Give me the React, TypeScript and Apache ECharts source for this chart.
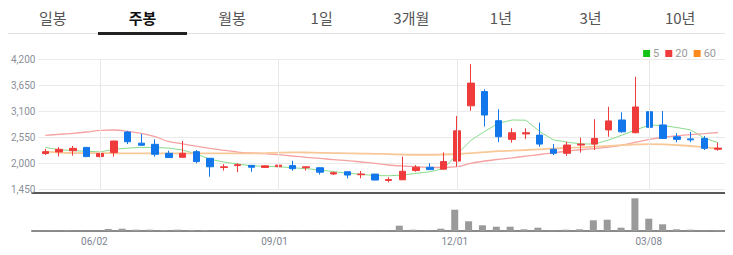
import React, { useEffect, useRef } from "react";
import * as echarts from "echarts";

const tabs = ["일봉", "주봉", "월봉", "1일", "3개월", "1년", "3년", "10년"];
const selectedTab = 1;

const dates = [
  "05/05", "05/12", "05/19", "05/26", "06/02", "06/09", "06/16", "06/23", "06/30", "07/07",
  "07/14", "07/21", "07/28", "08/04", "08/11", "08/18", "08/25", "09/01", "09/08", "09/15",
  "09/22", "09/29", "10/06", "10/13", "10/20", "10/27", "11/03", "11/10", "11/17", "11/24",
  "12/01", "12/08", "12/15", "12/22", "12/29", "01/05", "01/12", "01/19", "01/26", "02/02",
  "02/09", "02/16", "02/23", "03/02", "03/08", "03/16", "03/23", "03/30", "04/06", "04/13",
];

const openP = [
  2200, 2235, 2260, 2330, 2135, 2220, 2655, 2420, 2395, 2205,
  2120, 2240, 2100, 1905, 1945, 1950, 1905, 1922, 1945, 1900,
  1900, 1768, 1815, 1752, 1765, 1630, 1645, 1840, 1910, 1870,
  2040, 3210, 3510, 2895, 2500, 2615, 2590, 2290, 2205, 2380,
  2400, 2700, 2910, 2640, 3085, 2805, 2555, 2510, 2520, 2290,
];
const closeP = [
  2240, 2290, 2310, 2135, 2200, 2465, 2450, 2375, 2185, 2115,
  2205, 2030, 1920, 1920, 1965, 1910, 1940, 1955, 1880, 1920,
  1805, 1795, 1745, 1767, 1640, 1650, 1825, 1910, 1860, 2030,
  2680, 3690, 3015, 2555, 2640, 2640, 2400, 2205, 2380, 2400,
  2520, 2890, 2660, 3185, 2755, 2520, 2500, 2490, 2310, 2315,
];
const lowP = [
  2170, 2140, 2155, 2125, 2120, 2135, 2400, 2370, 2135, 2110,
  2115, 1995, 1710, 1840, 1805, 1815, 1895, 1890, 1835, 1840,
  1755, 1745, 1675, 1676, 1635, 1590, 1640, 1815, 1855, 1865,
  1920, 3105, 2770, 2440, 2430, 2510, 2345, 2170, 2150, 2220,
  2275, 2555, 2640, 2630, 2680, 2515, 2440, 2440, 2275, 2260,
];
const highP = [
  2300, 2335, 2360, 2340, 2210, 2470, 2680, 2615, 2500, 2260,
  2465, 2275, 2105, 1975, 1995, 1955, 1950, 2100, 2045, 1925,
  1905, 1815, 1820, 1830, 1770, 1700, 2135, 1955, 1995, 2225,
  2995, 4090, 3560, 3135, 2735, 2735, 2855, 2400, 2450, 2535,
  2925, 3190, 3075, 3825, 3615, 3100, 2630, 2660, 2570, 2430,
];

const ma5 = [
  2330, 2280, 2262, 2248, 2235, 2290, 2315, 2330, 2330, 2315,
  2275, 2190, 2080, 2020, 1980, 1940, 1930, 1920, 1900, 1880,
  1852, 1816, 1785, 1760, 1735, 1730, 1745, 1780, 1815, 1880,
  2190, 2480, 2670, 2840, 2910, 2905, 2665, 2490, 2440, 2405,
  2400, 2485, 2590, 2700, 2804, 2790, 2750, 2700, 2525, 2430,
];
const ma20 = [
  2586, 2607, 2628, 2656, 2690, 2698, 2670, 2625, 2557, 2450,
  2405, 2355, 2310, 2268, 2232, 2212, 2200, 2176, 2148, 2120,
  2100, 2070, 2049, 2021, 1994, 1958, 1937, 1922, 1909, 1905,
  1922, 1994, 2042, 2078, 2110, 2145, 2180, 2215, 2250, 2280,
  2305, 2335, 2380, 2440, 2500, 2545, 2575, 2600, 2620, 2645,
];
const ma60 = [
  2240, 2220, 2212, 2210, 2208, 2206, 2205, 2205, 2205, 2205,
  2205, 2205, 2205, 2205, 2205, 2205, 2210, 2220, 2225, 2222,
  2215, 2210, 2205, 2200, 2195, 2188, 2180, 2175, 2175, 2180,
  2190, 2210, 2230, 2250, 2262, 2275, 2290, 2305, 2318, 2330,
  2345, 2360, 2378, 2392, 2400, 2395, 2380, 2360, 2335, 2305,
];

const volume = [
  30000, 30000, 70000, 30000, 30000, 200000, 230000, 130000, 130000, 100000,
  130000, 100000, 100000, 40000, 40000, 40000, 40000, 50000, 40000, 30000,
  40000, 30000, 30000, 30000, 40000, 50000, 530000, 130000, 70000, 230000,
  2130000, 970000, 570000, 430000, 430000, 170000, 330000, 70000, 130000, 170000,
  1070000, 1130000, 330000, 3270000, 1230000, 670000, 170000, 130000, 70000, 70000,
];

const xLabels = ["06/02", "09/01", "12/01", "03/08"];
const priceMin = 1450;
const priceMax = 4200;
const priceStep = 550;
const volumeMax = 3800000;

const UP = "#ef3b3b";
const DOWN = "#1277ea";

function Chart() {
  const ref = useRef<HTMLDivElement>(null);
  useEffect(() => {
    if (!ref.current) return;
    const chart = echarts.init(ref.current, null, { renderer: "svg" });
    const showLabel = (_i: number, v: string) => xLabels.indexOf(v) >= 0;
    chart.setOption({
      animation: false,
      textStyle: { fontFamily: "Roboto, 'Noto Sans', sans-serif" },
      legend: {
        top: 8,
        right: 4,
        icon: "rect",
        itemWidth: 7,
        itemHeight: 7,
        itemGap: 6,
        textStyle: { color: "#9a9a9a", fontSize: 11, padding: [0, 0, 0, -2] },
        data: [
          { name: "5", itemStyle: { color: "#14c414" } },
          { name: "20", itemStyle: { color: "#f03c3c" } },
          { name: "60", itemStyle: { color: "#ff8a1c" } },
        ],
      },
      grid: [
        { left: 24, right: 0, top: 24, height: 130 },
        { left: 24, right: 0, top: 158, height: 38 },
      ],
      xAxis: [
        {
          gridIndex: 0,
          type: "category",
          data: dates,
          axisLine: { show: false },
          axisTick: { show: false },
          axisLabel: { show: false },
          splitLine: { show: false },
        },
        {
          gridIndex: 1,
          type: "category",
          data: dates,
          position: "bottom",
          axisLine: { lineStyle: { color: "#8a8a8a", width: 2 } },
          axisTick: { alignWithLabel: true, interval: showLabel, length: 3, lineStyle: { color: "#333" } },
          axisLabel: { interval: showLabel, color: "#7d8490", fontSize: 10, margin: 5 },
          splitLine: { show: false },
        },
        {
          gridIndex: 1,
          type: "category",
          data: dates,
          position: "top",
          axisLine: { lineStyle: { color: "#222", width: 1.5 } },
          axisTick: { show: false },
          axisLabel: { show: false },
        },
      ],
      yAxis: [
        {
          gridIndex: 0,
          type: "value",
          min: priceMin,
          max: priceMax,
          interval: priceStep,
          axisLine: { show: false },
          axisTick: { show: false },
          axisLabel: {
            color: "#8a8f99",
            fontSize: 10,
            margin: 3,
            formatter: (v: number) => v.toLocaleString("en-US"),
          },
          splitLine: { lineStyle: { color: "#ebebeb" } },
        },
        {
          gridIndex: 1,
          type: "value",
          min: 0,
          max: volumeMax,
          show: false,
          splitLine: { show: false },
        },
      ],
      series: [
        {
          name: "price",
          type: "candlestick",
          xAxisIndex: 0,
          yAxisIndex: 0,
          z: 4,
          barWidth: 7,
          data: dates.map((_, i) => [openP[i], closeP[i], lowP[i], highP[i]]),
          itemStyle: { color: UP, color0: DOWN, borderColor: UP, borderColor0: DOWN, borderWidth: 1 },
        },
        {
          name: "5",
          type: "line",
          xAxisIndex: 0,
          yAxisIndex: 0,
          z: 3,
          data: ma5,
          showSymbol: false,
          itemStyle: { color: "#14c414" },
          lineStyle: { color: "#8bdc8b", width: 1 },
          markLine: {
            silent: true,
            symbol: ["none", "none"],
            label: { show: false },
            lineStyle: { color: "#e8e8e8", type: "solid", width: 1 },
            data: xLabels.map((d) => ({ xAxis: d })),
          },
        },
        {
          name: "20",
          type: "line",
          xAxisIndex: 0,
          yAxisIndex: 0,
          z: 3,
          data: ma20,
          smooth: 0.3,
          showSymbol: false,
          itemStyle: { color: "#f03c3c" },
          lineStyle: { color: "#f5a2a2", width: 1.3 },
        },
        {
          name: "60",
          type: "line",
          xAxisIndex: 0,
          yAxisIndex: 0,
          z: 3,
          data: ma60,
          smooth: 0.3,
          showSymbol: false,
          itemStyle: { color: "#ff8a1c" },
          lineStyle: { color: "#f9c898", width: 1.8 },
        },
        {
          name: "volume",
          type: "bar",
          xAxisIndex: 1,
          yAxisIndex: 1,
          barWidth: 7,
          data: volume,
          itemStyle: { color: "#9a9a9a" },
        },
      ],
    });
    return () => chart.dispose();
  }, []);
  return <div ref={ref} style={{ width: 717, height: 220 }} />;
}

export default function App() {
  return (
    <div style={{ width: 717 }}>
      <div
        style={{
          position: "relative",
          display: "flex",
          height: 27,
          fontFamily: "'Noto Sans CJK KR', 'Noto Sans', sans-serif",
          fontSize: 15,
        }}
      >
        <div style={{ position: "absolute", left: 0, right: 0, bottom: 1, height: 1, background: "#e3e3e3" }} />
        {tabs.map((t, i) => (
          <div
            key={t}
            style={{
              position: "relative",
              flex: 1,
              textAlign: "center",
              lineHeight: "20px",
              color: i === selectedTab ? "#111" : "#555",
              fontWeight: i === selectedTab ? 700 : 400,
            }}
          >
            {t}
            {i === selectedTab && (
              <div style={{ position: "absolute", left: 0, right: 0, bottom: 0, height: 3, background: "#222" }} />
            )}
          </div>
        ))}
      </div>
      <Chart />
    </div>
  );
}
